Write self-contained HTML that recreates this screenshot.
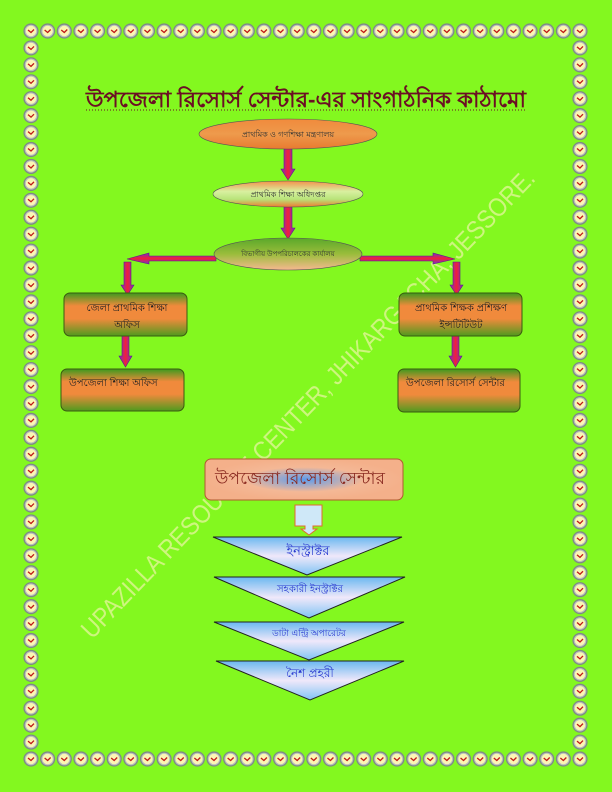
<!DOCTYPE html>
<html><head><meta charset="utf-8"><style>
html,body{margin:0;padding:0;background:#83f81f;}
svg{display:block}
text{font-family:"Liberation Sans","Noto Sans CJK SC",sans-serif}
</style></head><body>
<svg id="s" width="612" height="792" viewBox="0 0 612 792" xmlns="http://www.w3.org/2000/svg">
<defs>
<symbol id="clk" viewBox="-8 -8 16 16" overflow="visible">
<circle r="7.6" fill="#7f8a86"/><circle r="6.3" fill="#b9c2bd"/><circle r="5.2" fill="#fbf7b4"/>
<path d="M-3,-1 L0,1.5 L3,-1.5" stroke="#c01818" stroke-width="1.3" fill="none"/>
</symbol>
<linearGradient id="og" x1="0" y1="0" x2="0" y2="1"><stop offset="0" stop-color="#3d9a1e"/><stop offset=".3" stop-color="#f08a3c"/><stop offset=".6" stop-color="#f08a3c"/><stop offset="1" stop-color="#4f9a1e"/></linearGradient>
<linearGradient id="e1" x1="0" y1="0" x2="0" y2="1"><stop offset="0" stop-color="#f08a3c"/><stop offset=".5" stop-color="#ee9a4c"/><stop offset="1" stop-color="#e87a30"/></linearGradient>
<linearGradient id="e2" x1="0" y1="0" x2="0" y2="1"><stop offset="0" stop-color="#f3914b"/><stop offset=".4" stop-color="#d8f0a0"/><stop offset=".7" stop-color="#b8e47a"/><stop offset="1" stop-color="#f07a30"/></linearGradient>
<linearGradient id="e3" x1="0" y1="0" x2="0" y2="1"><stop offset="0" stop-color="#5aa82a"/><stop offset=".5" stop-color="#9abd3b"/><stop offset="1" stop-color="#f6b890"/></linearGradient>
<linearGradient id="tri" x1="0" y1="0" x2="0" y2="1"><stop offset="0" stop-color="#6ab8f0"/><stop offset=".5" stop-color="#f0e8fa"/><stop offset="1" stop-color="#80c4f4"/></linearGradient>
<linearGradient id="arV" x1="0" y1="0" x2="1" y2="0"><stop offset="0" stop-color="#7a2cc8"/><stop offset=".5" stop-color="#f0203a"/><stop offset="1" stop-color="#7a2cc8"/></linearGradient>
<linearGradient id="arH" x1="0" y1="0" x2="0" y2="1"><stop offset="0" stop-color="#7a2cc8"/><stop offset=".5" stop-color="#f0203a"/><stop offset="1" stop-color="#7a2cc8"/></linearGradient>
<radialGradient id="pk" cx=".5" cy=".5" r=".5"><stop offset="0" stop-color="#5a9cf0"/><stop offset=".6" stop-color="#f4b896"/><stop offset="1" stop-color="#f4b08a"/></radialGradient>
</defs>
<g id="border"></g>
<text x="306" y="107" text-anchor="middle" font-size="22" font-weight="bold" fill="#6b0f24" textLength="440" lengthAdjust="spacingAndGlyphs">উপজেলা রিসোর্স সেন্টার-এর সাংগাঠনিক কাঠামো</text>
<line x1="86" y1="110" x2="526" y2="110" stroke="#6b0f24" stroke-dasharray="1,2"/>
<text x="0" y="0" transform="translate(92,640) rotate(-46)" font-size="26" fill="#eef4a8" opacity=".7" textLength="640" lengthAdjust="spacingAndGlyphs">UPAZILLA RESOURCE CENTER, JHIKARGACHA, JESSORE.</text>
<g fill="url(#arV)" stroke="#5a1a90" stroke-width=".6">
<path d="M284,149 h8 v20 h3 l-7,11 l-7,-11 h3z"/>
<path d="M284,207 h8 v21 h3 l-7,11 l-7,-11 h3z"/>
<path d="M124,262 h7 v23 h3 l-6.5,10 l-6.5,-10 h3z"/>
<path d="M453,262 h7 v23 h3 l-6.5,10 l-6.5,-10 h3z"/>
<path d="M122,336 h7 v20 h3 l-6.5,11 l-6.5,-11 h3z"/>
<path d="M452,336 h7 v20 h3 l-6.5,11 l-6.5,-11 h3z"/>
</g>
<g fill="url(#arH)" stroke="#5a1a90" stroke-width=".6">
<path d="M216,256 h-67 v-3 l-22,6 l22,5 v-3 h67z"/>
<path d="M360,256 h73 v-3 l22,6 l-22,5 v-3 h-73z"/>
</g>
<ellipse cx="288" cy="134" rx="89" ry="15" fill="url(#e1)" stroke="#555" stroke-width=".6"/>
<text x="288" y="137" text-anchor="middle" font-size="8" fill="#333">প্রাথমিক ও গণশিক্ষা মন্ত্রণালয়</text>
<ellipse cx="288" cy="194" rx="75" ry="13" fill="url(#e2)" stroke="#555" stroke-width=".6"/>
<text x="288" y="197" text-anchor="middle" font-size="8" fill="#333">প্রাথমিক শিক্ষা অধিদপ্তর</text>
<ellipse cx="288" cy="254" rx="74" ry="16" fill="url(#e3)" stroke="#555" stroke-width=".6"/>
<text x="288" y="256" text-anchor="middle" font-size="7" fill="#333">বিভাগীয় উপপরিচালকের কার্যালয়</text>
<g stroke="#3a5a10" stroke-width="1" fill="url(#og)">
<rect x="64" y="293" width="123" height="43" rx="6"/>
<rect x="61" y="369" width="123" height="42" rx="6"/>
<rect x="399" y="293" width="123" height="43" rx="6"/>
<rect x="398" y="369" width="122" height="43" rx="6"/>
</g>
<g font-size="10" fill="#222">
<text x="127" y="311" text-anchor="middle">জেলা প্রাথমিক শিক্ষা</text>
<text x="127" y="328" text-anchor="middle">অফিস</text>
<text x="69" y="386">উপজেলা শিক্ষা অফিস</text>
<text x="461" y="311" text-anchor="middle">প্রাথমিক শিক্ষক প্রশিক্ষণ</text>
<text x="461" y="328" text-anchor="middle">ইন্সটিটিউট</text>
<text x="406" y="386">উপজেলা রিসোর্স সেন্টার</text>
</g>
<rect x="205" y="459" width="198" height="41" rx="6" fill="url(#pk)" stroke="#b05a30"/>
<text x="215" y="484" font-size="17" fill="#8a2a20" textLength="170" lengthAdjust="spacingAndGlyphs">উপজেলা রিসোর্স সেন্টার</text>
<path d="M295,505 h27 v21 h-9 v3 h4 l-8,6 l-8,-6 h4 v-3 h-10z" fill="#cfe8f8" stroke="#e06a30"/>
<g stroke="#222" stroke-width="1" fill="url(#tri)">
<path d="M213,537 L402,537 L307,575z"/>
<path d="M214,577 L405,577 L309,618z"/>
<path d="M214,622 L404,622 L309,660z"/>
<path d="M216,661 L404,661 L310,700z"/>
</g>
<g fill="#2a3ad0" text-anchor="middle">
<text x="308" y="555" font-size="13">ইনস্ট্রাক্টর</text>
<text x="310" y="592" font-size="10">সহকারী ইনস্ট্রাক্টর</text>
<text x="309" y="636" font-size="9">ডাটা এন্ট্রি অপারেটর</text>
<text x="310" y="677" font-size="12">নৈশ প্রহরী</text>
</g>
</svg>
<script>
var g=document.getElementById('border'),h='';
function c(x,y){h+='<use href="#clk" x="'+(x-8)+'" y="'+(y-8)+'" width="16" height="16"/>';}
var nx=34,ny=44;
for(var i=0;i<nx;i++){var x=31+i*(549/(nx-1));c(x,31);c(x,759);}
for(var j=1;j<ny-1;j++){var y=31+j*(728/(ny-1));c(31,y);c(580,y);}
g.innerHTML=h;
</script>
</body></html>
